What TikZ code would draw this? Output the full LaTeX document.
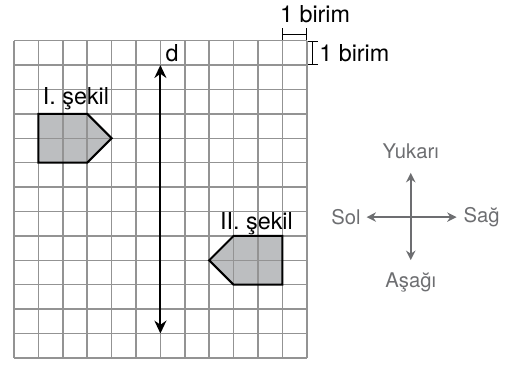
\documentclass[tikz,border=0pt]{standalone}
\usepackage{fontspec}
\setmainfont{TeX Gyre Heros}
\usetikzlibrary{arrows.meta,positioning}

\definecolor{gridgray}{HTML}{939393}
\definecolor{shapegray}{HTML}{BCBEC0}
\definecolor{dirgray}{HTML}{6D6E71}

\tikzset{
    shapebox/.style={draw=black, line width=1.2pt, line join=miter},
    axisarrow/.style={line width=1.2pt, {Stealth[length=7.5pt,width=7pt]}-{Stealth[length=7.5pt,width=7pt]}},
    dirarrow/.style={draw=dirgray, line width=0.9pt, -{Stealth[length=5.5pt,width=5.5pt]}},
    dirlabel/.style={text=dirgray, font=\fontsize{11.8}{14}\selectfont, inner sep=1pt},
    unitbar/.style={line width=0.6pt},
}

\begin{document}
\begin{tikzpicture}[x=0.5cm, y=0.5cm]
        \tikzstyle{every node}=[font=\fontsize{13.6}{16}\selectfont]
        \useasboundingbox (-0.574,-0.291) rectangle (20.37,14.668);
        % figures
        \fill[shapegray] (1,10) -- (3,10) -- (4,9) -- (3,8) -- (1,8) -- cycle;
        \fill[shapegray] (9,5) -- (11,5) -- (11,3) -- (9,3) -- (8,4) -- cycle;
        % grid
        \foreach \i in {0,...,12}
            \draw[gridgray, line width=0.85pt] (\i,0) -- (\i,13);
        \foreach \j in {0,...,13}
            \draw[gridgray, line width=0.85pt] (0,\j) -- (12,\j);
        \draw[shapebox] (1,10) -- (3,10) -- (4,9) -- (3,8) -- (1,8) -- cycle;
        \draw[shapebox] (9,5) -- (11,5) -- (11,3) -- (9,3) -- (8,4) -- cycle;
        \node[anchor=base] (sekil1) at (2.54,10.37) {I. şekil};
        \node[anchor=base] (sekil2) at (9.94,5.27) {II. şekil};
        % line d
        \coordinate (dtop) at (6,12);
        \coordinate (dbot) at (6,1);
        \draw[axisarrow] (dtop) -- (dbot);
        \node (d) at (6.48,12.48) {d};
        % unit bars
        \coordinate (ua) at (11,13.27);
        \coordinate (ub) at (12,13.27);
        \coordinate (uc) at (12.25,13);
        \coordinate (ud) at (12.25,12);
        \draw[unitbar, {|[width=7pt]}-{|[width=7pt]}] (ua) -- (ub);
        \draw[unitbar, {|[width=6pt]}-{|[width=6pt]}] (uc) -- (ud);
        \node (birim1) at (12.34,14.09) {1 birim};
        \node[anchor=west, inner sep=0pt] (birim2) at (12.5,12.5) {1 birim};
        % directions
        \coordinate (c) at (16.26,5.77);
        \coordinate (up) at (16.26,7.58);
        \coordinate (down) at (16.26,4.01);
        \coordinate (left) at (14.45,5.77);
        \coordinate (right) at (18.14,5.77);
        \draw[dirarrow] (c) -- (up);
        \draw[dirarrow] (c) -- (down);
        \draw[dirarrow] (c) -- (left);
        \draw[dirarrow] (c) -- (right);
        \node[dirlabel, above=0.25cm of up] (yukari) {Yukarı};
        \node[dirlabel, below=0.22cm of down] (asagi) {Aşağı};
        \node[dirlabel, left=0.08cm of left] (sol) {Sol};
        \node[dirlabel, right=0.1cm of right] (sag) {Sağ};
    \end{tikzpicture}
\end{document}
